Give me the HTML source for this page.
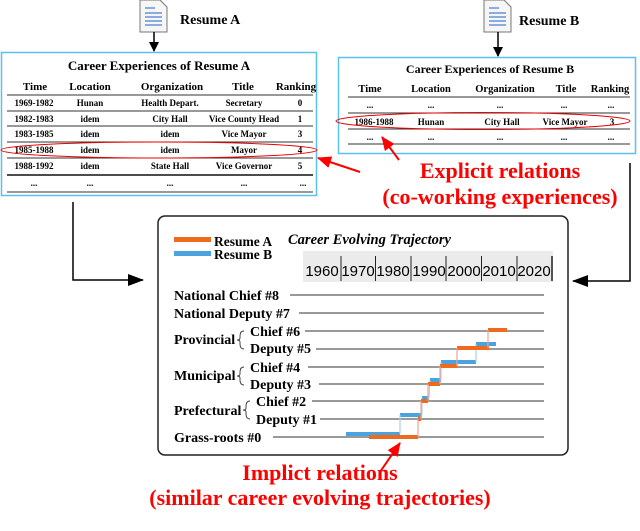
<!DOCTYPE html>
<html><head><meta charset="utf-8"><style>
html,body{margin:0;padding:0;background:#fff;}
svg{display:block;font-family:"Liberation Serif",serif;font-weight:bold;}
</style></head><body>
<svg width="640" height="531" viewBox="0 0 640 531" xmlns="http://www.w3.org/2000/svg">
<defs>
<marker id="ak" markerWidth="10" markerHeight="10" refX="9" refY="5" orient="auto" markerUnits="userSpaceOnUse"><path d="M0,0 L10,5 L0,10 z" fill="#000"/></marker>
<marker id="ar" markerWidth="14" markerHeight="12" refX="13" refY="6" orient="auto" markerUnits="userSpaceOnUse"><path d="M0,0 L14,6 L0,12 z" fill="#f00"/></marker>
<marker id="ak2" markerWidth="16" markerHeight="12" refX="15" refY="6" orient="auto" markerUnits="userSpaceOnUse"><path d="M0,0 L16,6 L0,12 z" fill="#000"/></marker>
</defs>
<g>
<path d="M140,0 H160 L167,7 V32 H140 Z" fill="#f6f6f6" stroke="#777" stroke-width="1"/>
<g stroke="#4a7fd0" stroke-width="1.2"><line x1="145" y1="8" x2="155" y2="8"/><line x1="145" y1="13" x2="162" y2="13"/><line x1="145" y1="17" x2="162" y2="17"/><line x1="145" y1="21" x2="162" y2="21"/><line x1="145" y1="25" x2="162" y2="25"/></g>
<text x="180" y="24" font-size="14">Resume A</text>
<line x1="154" y1="32" x2="154" y2="51" stroke="#000" stroke-width="1.5" marker-end="url(#ak)"/>
</g>
<g>
<path d="M484,0 H504 L511,7 V32 H484 Z" fill="#f6f6f6" stroke="#777" stroke-width="1"/>
<g stroke="#4a7fd0" stroke-width="1.2"><line x1="489" y1="8" x2="499" y2="8"/><line x1="489" y1="13" x2="506" y2="13"/><line x1="489" y1="17" x2="506" y2="17"/><line x1="489" y1="21" x2="506" y2="21"/><line x1="489" y1="25" x2="506" y2="25"/></g>
<text x="519" y="25" font-size="14">Resume B</text>
<line x1="498" y1="32" x2="498" y2="56" stroke="#000" stroke-width="1.5" marker-end="url(#ak)"/>
</g>
<!-- Table A -->
<rect x="1.5" y="52.5" width="315" height="143" fill="#fff" stroke="#5bc0f0" stroke-width="1.5"/>
<text x="159" y="70" font-size="13" text-anchor="middle">Career Experiences of Resume A</text>
<g font-size="11" text-anchor="middle">
<text x="35" y="90">Time</text><text x="90" y="90">Location</text><text x="172" y="90">Organization</text><text x="243" y="90">Title</text><text x="296" y="90">Ranking</text>
</g>
<g stroke="#333" stroke-width="1"><line x1="7" y1="95" x2="313" y2="95"/><line x1="7" y1="111" x2="313" y2="111"/><line x1="7" y1="126" x2="313" y2="126"/><line x1="7" y1="142" x2="313" y2="142"/><line x1="7" y1="158" x2="313" y2="158"/><line x1="7" y1="175" x2="313" y2="175" stroke-width="1.8"/><line x1="7" y1="192" x2="313" y2="192"/></g>
<g font-size="9" text-anchor="middle">
<text x="34" y="106">1969-1982</text><text x="90" y="106">Hunan</text><text x="170" y="106">Health Depart.</text><text x="244" y="106">Secretary</text><text x="300" y="106">0</text>
<text x="34" y="122">1982-1983</text><text x="90" y="122">idem</text><text x="170" y="122">City Hall</text><text x="244" y="122">Vice County Head</text><text x="300" y="122">1</text>
<text x="34" y="137">1983-1985</text><text x="90" y="137">idem</text><text x="170" y="137">idem</text><text x="244" y="137">Vice Mayor</text><text x="300" y="137">3</text>
<text x="34" y="153">1985-1988</text><text x="90" y="153">idem</text><text x="170" y="153">idem</text><text x="244" y="153">Mayor</text><text x="300" y="153">4</text>
<text x="34" y="169">1988-1992</text><text x="90" y="169">idem</text><text x="170" y="169">State Hall</text><text x="244" y="169">Vice Governor</text><text x="300" y="169">5</text>
<text x="34" y="186">...</text><text x="90" y="186">...</text><text x="170" y="186">...</text><text x="244" y="186">...</text><text x="303" y="186">...</text>
</g>
<ellipse cx="159" cy="150" rx="158" ry="8" fill="none" stroke="#e00" stroke-width="1"/>
<!-- Table B -->
<rect x="338.5" y="57.5" width="297" height="96" fill="#fff" stroke="#5bc0f0" stroke-width="1.5"/>
<text x="490" y="73" font-size="12" text-anchor="middle">Career Experiences of Resume B</text>
<g font-size="10.5" text-anchor="middle">
<text x="370" y="92">Time</text><text x="431" y="92">Location</text><text x="505" y="92">Organization</text><text x="566" y="92">Title</text><text x="610" y="92">Ranking</text>
</g>
<g stroke="#333" stroke-width="1"><line x1="348" y1="97" x2="630" y2="97"/><line x1="348" y1="113" x2="630" y2="113"/><line x1="348" y1="129" x2="630" y2="129"/><line x1="348" y1="144" x2="630" y2="144"/></g>
<g font-size="9" text-anchor="middle">
<text x="370" y="108">...</text><text x="431" y="108">...</text><text x="500" y="108">...</text><text x="564" y="108">...</text><text x="611" y="108">...</text>
<text x="374" y="125">1986-1988</text><text x="431" y="125">Hunan</text><text x="502" y="125">City Hall</text><text x="565" y="125">Vice Mayor</text><text x="612" y="125">3</text>
<text x="370" y="140">...</text><text x="431" y="140">...</text><text x="500" y="140">...</text><text x="564" y="140">...</text><text x="611" y="140">...</text>
</g>
<ellipse cx="483" cy="121" rx="147" ry="8.5" fill="none" stroke="#e00" stroke-width="1"/>
<line x1="360" y1="172" x2="318" y2="158" stroke="#f00" stroke-width="2" marker-end="url(#ar)"/>
<line x1="399" y1="160" x2="382" y2="137" stroke="#f00" stroke-width="2" marker-end="url(#ar)"/>
<g fill="#f00" font-size="22" text-anchor="middle">
<text x="500" y="178">Explicit relations</text>
<text x="500" y="204">(co-working experiences)</text>
</g>
<polyline points="73,202 73,280 143,280" fill="none" stroke="#000" stroke-width="1.5" marker-end="url(#ak2)"/>
<polyline points="630,163 630,281 573,281" fill="none" stroke="#000" stroke-width="1.5" marker-end="url(#ak2)"/>
<rect x="158" y="216" width="410" height="239" rx="7" fill="#fff" stroke="#222" stroke-width="1.5"/>
<rect x="174" y="237" width="37" height="5" fill="#ee6a1d"/>
<rect x="174" y="251" width="37" height="5" fill="#4aa3de"/>
<text x="214" y="246" font-size="13.5">Resume A</text>
<text x="214" y="259" font-size="13.5">Resume B</text>
<text x="288" y="244" font-size="14.5" font-style="italic">Career Evolving Trajectory</text>
<rect x="303" y="251" width="250" height="31" fill="#ebebeb"/>
<g font-family="Liberation Sans, sans-serif" font-weight="normal" font-size="15" text-anchor="middle">
<text x="322" y="276">1960</text><text x="358" y="276">1970</text><text x="393" y="276">1980</text><text x="429" y="276">1990</text><text x="464" y="276">2000</text><text x="499" y="276">2010</text><text x="534" y="276">2020</text>
</g>
<g stroke="#222" stroke-width="1"><line x1="341" y1="256" x2="341" y2="281"/><line x1="375.5" y1="256" x2="375.5" y2="281"/><line x1="411" y1="256" x2="411" y2="281"/><line x1="446" y1="256" x2="446" y2="281"/><line x1="481.5" y1="256" x2="481.5" y2="281"/><line x1="517" y1="256" x2="517" y2="281"/><line x1="552" y1="256" x2="552" y2="281" stroke-width="1.5"/></g>
<g font-size="14">
<text x="174" y="300">National Chief #8</text>
<text x="174" y="318">National Deputy #7</text>
<text x="174" y="344">Provincial</text>
<text x="250" y="336">Chief #6</text>
<text x="250" y="353">Deputy #5</text>
<text x="174" y="380">Municipal</text>
<text x="250" y="372">Chief #4</text>
<text x="250" y="389">Deputy #3</text>
<text x="174" y="415">Prefectural</text>
<text x="256" y="406">Chief #2</text>
<text x="256" y="424">Deputy #1</text>
<text x="174" y="442">Grass-roots #0</text>
</g>
<g fill="none" stroke="#333" stroke-width="0.9">
<path d="M244,331 q-4,0 -4,5 v2 q0,2 -3,2 q3,0 3,2 v2 q0,5 4,5"/>
<path d="M244,367 q-4,0 -4,5 v2 q0,2 -3,2 q3,0 3,2 v2 q0,5 4,5"/>
<path d="M250,401 q-4,0 -4,5 v2 q0,2 -3,2 q3,0 3,2 v2 q0,5 4,5"/>
</g>
<g stroke="#333" stroke-width="1">
<line x1="290" y1="295" x2="544" y2="295"/>
<line x1="299" y1="313" x2="544" y2="313"/>
<line x1="305" y1="331" x2="544" y2="331"/>
<line x1="316" y1="349" x2="544" y2="349"/>
<line x1="308" y1="367" x2="544" y2="367"/>
<line x1="319" y1="384" x2="544" y2="384"/>
<line x1="312" y1="401" x2="544" y2="401"/>
<line x1="320" y1="419" x2="544" y2="419"/>
<line x1="273" y1="437" x2="544" y2="437"/>
</g>
<g stroke="#4aa3de" stroke-width="4" fill="none">
<polyline points="346,434 400,434"/>
<polyline points="400,415 422,415"/>
<polyline points="422,398 429,398"/>
<polyline points="430,380 441,380"/>
<polyline points="441,362 476,362"/>
<polyline points="476,344 496,344"/>
</g>
<g stroke="#9fd4f2" stroke-width="1.2"><line x1="400" y1="434" x2="400" y2="415"/><line x1="422" y1="415" x2="422" y2="398"/><line x1="429" y1="398" x2="430" y2="380"/><line x1="441" y1="380" x2="441" y2="362"/><line x1="476" y1="362" x2="476" y2="344"/></g>
<g stroke="#ee6a1d" stroke-width="4" fill="none">
<polyline points="369,437 418,437"/>
<polyline points="418,419 421,419"/>
<polyline points="421,401 428,401"/>
<polyline points="428,384 440,384"/>
<polyline points="440,366 457,366"/>
<polyline points="457,348 489,348"/>
<polyline points="488,330 507,330"/>
</g>
<g stroke="#f5a08a" stroke-width="1.2"><line x1="418" y1="437" x2="418" y2="419"/><line x1="421" y1="419" x2="421" y2="401"/><line x1="428" y1="401" x2="428" y2="384"/><line x1="440" y1="384" x2="440" y2="366"/><line x1="457" y1="366" x2="457" y2="348"/><line x1="488" y1="348" x2="488" y2="330"/></g>
<line x1="380" y1="472" x2="400" y2="443" stroke="#f00" stroke-width="2" marker-end="url(#ar)"/>
<g fill="#f00" font-size="22" text-anchor="middle">
<text x="320" y="480">Implict relations</text>
<text x="320" y="505">(similar career evolving trajectories)</text>
</g>
</svg>
</body></html>
